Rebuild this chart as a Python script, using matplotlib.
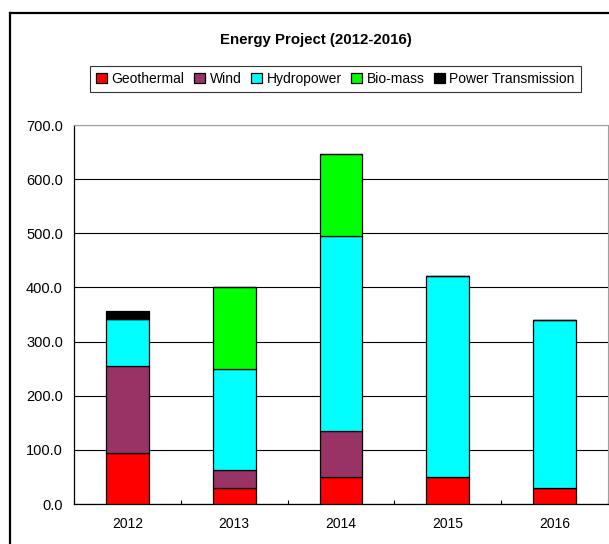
import matplotlib.pyplot as plt
import numpy as np
from matplotlib.lines import Line2D

plt.rcParams['font.family'] = ['Liberation Sans', 'DejaVu Sans']

years = ['2012', '2013', '2014', '2015', '2016']
geothermal = [95, 29, 50, 50, 29]
wind = [160, 33, 85, 0, 0]
hydropower = [87, 187, 360, 371, 311]
biomass = [0, 152, 151, 0, 0]
transmission = [14, 0, 0, 0, 0]

series = [
    ('Geothermal', geothermal, '#FF0000'),
    ('Wind', wind, '#993366'),
    ('Hydropower', hydropower, '#00FFFF'),
    ('Bio-mass', biomass, '#00FF00'),
    ('Power Transmission', transmission, '#000000'),
]

fig = plt.figure(figsize=(6.09, 5.44), dpi=100)
ax = fig.add_axes([74 / 609, 40 / 544, 534 / 609, 379 / 544])

x = np.arange(len(years))
bottom = np.zeros(len(years))
for name, vals, color in series:
    vals = np.array(vals, dtype=float)
    ax.bar(x, vals, 0.4, bottom=bottom, color=color, edgecolor='black',
           linewidth=0.9, label=name, zorder=3)
    bottom += vals

ax.set_xlim(-0.5, 4.5)
ax.set_ylim(0, 700)
ax.set_yticks(np.arange(0, 701, 100))
ax.set_yticklabels([f'{v:.1f}' for v in np.arange(0, 701, 100)])
ax.set_xticks(x)
ax.set_xticklabels(years)
ax.set_xticks(np.arange(-0.5, 4.6, 1), minor=True)
ax.tick_params(axis='x', which='major', length=0, pad=9.5, labelsize=10)
ax.tick_params(axis='x', which='minor', direction='in', length=3, width=0.8)
ax.tick_params(axis='y', length=0, pad=8, labelsize=10.5)
ax.yaxis.grid(True, color='black', linewidth=0.8, zorder=0)
ax.set_axisbelow(True)

for side in ['top', 'right']:
    ax.spines[side].set_color('#a0a0a0')
    ax.spines[side].set_linewidth(0.8)
for side in ['left', 'bottom']:
    ax.spines[side].set_color('black')
    ax.spines[side].set_linewidth(0.9)

fig.text(0.519, 0.927, 'Energy Project (2012-2016)', ha='center', va='center',
         fontsize=10.8, fontweight='bold')

leg = fig.legend(loc='center', bbox_to_anchor=(0.551, 0.855), ncol=5,
                 fontsize=10, frameon=True, fancybox=False, edgecolor='black',
                 handlelength=0.75, handleheight=0.75, handletextpad=0.35,
                 columnspacing=0.7, borderpad=0.45)
leg.get_frame().set_linewidth(0.8)

# outer chart border (only left and top visible in the crop)
fig.add_artist(Line2D([10 / 609, 10 / 609], [0, 1 - 12.5 / 544], color='black',
                      linewidth=1.6, transform=fig.transFigure))
fig.add_artist(Line2D([10 / 609, 1], [1 - 12.5 / 544, 1 - 12.5 / 544], color='black',
                      linewidth=1.6, transform=fig.transFigure))

fig.savefig('out.png', dpi=100)
